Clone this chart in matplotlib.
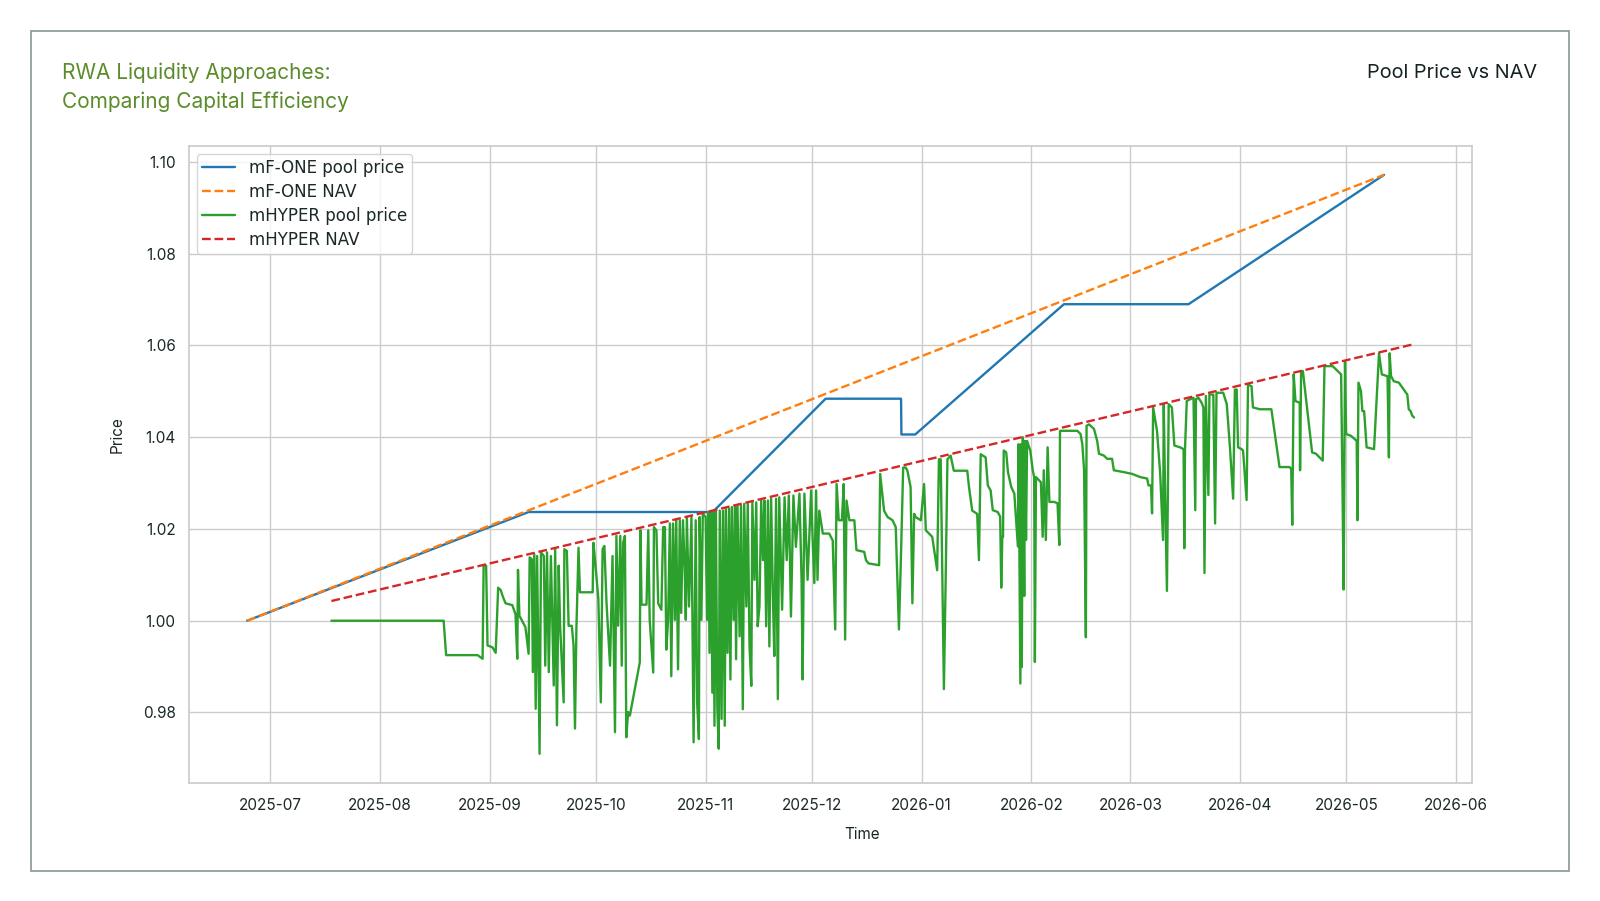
import matplotlib
matplotlib.use("Agg")
import matplotlib.pyplot as plt
from matplotlib.patches import Rectangle
import seaborn as sns
import pandas as pd

# day offsets are counted from 2025-07-01
BASE = pd.Timestamp("2025-07-01")

# mF-ONE NAV (straight accrual line)
one_nav_day = [-6.5, 314.6]
one_nav = [1.0000, 1.0972]

# mF-ONE pool price
one_pool_day = [-6.5, 73.0, 125.0, 156.9, 178.2, 178.3, 182.2, 224.2, 259.4, 314.6]
one_pool = [1.0000, 1.0237, 1.0237, 1.0484, 1.0484, 1.0406, 1.0406, 1.0690, 1.0690, 1.0972]

# mHYPER NAV
hyper_nav_day = [17.3, 323.1]
hyper_nav = [1.0043, 1.0603]

# mHYPER pool price
hyper_day = [
    17.3, 49.0, 49.7, 58.6, 60.0, 60.3, 61.0, 61.4, 62.8, 63.7,
    64.4, 65.1, 65.8, 66.5, 68.4, 69.3, 69.8, 70.0, 70.4, 72.1,
    73.0, 73.3, 73.9, 74.2, 74.6, 75.0, 75.4, 76.1, 76.5, 77.3,
    77.7, 78.2, 78.7, 79.3, 80.1, 80.5, 81.0, 81.5, 81.9, 82.9,
    83.1, 83.8, 84.3, 85.2, 85.7, 86.1, 86.5, 87.1, 87.5, 91.1,
    91.3, 91.8, 92.7, 93.4, 93.9, 94.4, 95.0, 96.0, 96.7, 97.4,
    97.8, 98.3, 98.9, 99.3, 99.7, 100.2, 100.6, 101.1, 101.6, 104.4,
    104.6, 104.9, 106.3, 106.8, 107.2, 107.7, 108.2, 108.4, 109.1, 109.6,
    110.5, 111.0, 111.5, 111.9, 112.4, 112.9, 113.3, 113.8, 114.3, 114.7,
    115.2, 115.7, 116.1, 116.6, 117.1, 117.4, 117.7, 118.3, 119.0, 119.6,
    120.2, 120.6, 121.1, 121.3, 121.8, 122.2, 123.0, 123.4, 123.8, 124.1,
    124.5, 124.9, 125.2, 125.5, 125.9, 126.3, 126.7, 127.0, 127.5, 127.9,
    128.4, 128.7, 129.2, 129.6, 130.0, 130.4, 130.9, 131.3, 131.6, 132.0,
    132.6, 133.0, 133.5, 133.9, 134.5, 134.9, 135.4, 135.9, 136.2, 136.8,
    137.3, 137.7, 138.2, 138.7, 139.2, 139.6, 140.1, 140.6, 141.0, 141.5,
    142.0, 142.4, 142.9, 143.4, 143.8, 144.6, 145.3, 145.9, 146.5, 147.1,
    147.8, 148.5, 149.5, 150.1, 150.4, 150.9, 151.8, 152.8, 153.2, 153.7,
    154.2, 154.6, 155.1, 156.1, 157.9, 158.9, 159.6, 160.0, 160.6, 161.5,
    162.0, 162.4, 162.8, 163.6, 165.0, 165.6, 167.8, 168.3, 169.0, 172.0,
    172.3, 173.4, 174.4, 175.8, 176.7, 177.6, 178.1, 178.8, 179.5, 180.0,
    180.9, 181.4, 181.9, 182.3, 183.8, 184.7, 185.2, 187.0, 188.4, 188.9,
    189.4, 190.3, 190.8, 191.3, 192.2, 193.1, 194.1, 196.9, 197.4, 198.3,
    199.7, 200.2, 200.7, 202.1, 202.7, 203.5, 204.1, 205.5, 206.2, 206.5,
    206.8, 207.0, 207.2, 207.9, 208.4, 209.3, 210.2, 211.2, 211.4, 211.9,
    212.1, 212.3, 212.6, 213.0, 213.2, 213.5, 213.8, 214.7, 215.4, 215.8,
    216.0, 216.3, 217.2, 217.7, 218.2, 218.5, 219.1, 219.6, 220.1, 221.5,
    222.4, 222.9, 223.1, 228.0, 228.9, 229.4, 229.9, 230.4, 230.6, 231.3,
    232.7, 233.6, 234.1, 235.5, 236.4, 237.8, 238.3, 241.1, 243.5, 245.8,
    247.7, 248.1, 248.8, 249.1, 249.4, 250.5, 251.4, 252.2, 252.4, 252.8,
    253.3, 253.8, 254.7, 255.4, 257.0, 258.0, 258.2, 258.4, 258.9, 259.9,
    260.8, 261.3, 261.5, 262.2, 263.1, 263.6, 263.9, 264.3, 265.0, 265.3,
    266.4, 266.9, 267.3, 269.2, 270.2, 271.1, 272.0, 272.5, 273.0, 273.4,
    274.4, 274.8, 275.8, 276.2, 277.2, 277.6, 279.5, 282.8, 285.1, 287.9,
    288.4, 288.7, 289.1, 289.6, 290.8, 290.9, 291.2, 291.7, 294.3, 295.4,
    297.3, 297.8, 300.1, 302.5, 302.9, 303.2, 303.6, 303.9, 305.3, 306.9,
    307.1, 307.4, 308.1, 308.5, 309.0, 309.7, 311.8, 313.2, 314.0, 315.6,
    316.0, 316.2, 316.6, 317.4, 318.8, 320.2, 321.2, 321.6, 322.1, 322.6,
    323.1,
]
hyper_price = [
    1.0000, 1.0000, 0.9925, 0.9925, 0.9917, 1.0121, 1.0120, 0.9946, 0.9942, 0.9930,
    1.0072, 1.0067, 1.0051, 1.0038, 1.0034, 1.0014, 0.9917, 1.0111, 1.0011, 0.9986,
    0.9928, 1.0138, 1.0134, 0.9888, 1.0145, 0.9808, 1.0141, 0.9710, 1.0149, 1.0141,
    0.9902, 1.0149, 0.9888, 1.0141, 0.9859, 1.0156, 0.9772, 1.0120, 0.9989, 0.9822,
    1.0156, 1.0152, 0.9989, 0.9989, 0.9946, 0.9765, 0.9982, 1.0159, 1.0062, 1.0062,
    1.0170, 1.0130, 1.0047, 0.9822, 1.0156, 1.0163, 1.0040, 0.9902, 1.0141, 0.9757,
    1.0185, 0.9989, 1.0185, 0.9902, 1.0170, 1.0185, 0.9746, 0.9801, 0.9793, 0.9909,
    1.0197, 1.0035, 1.0035, 1.0197, 1.0002, 0.9944, 0.9887, 1.0204, 1.0197, 1.0038,
    1.0024, 1.0204, 1.0204, 0.9937, 1.0002, 1.0212, 0.9879, 1.0212, 1.0002, 1.0219,
    0.9894, 1.0219, 1.0017, 1.0219, 1.0110, 1.0002, 1.0226, 1.0031, 1.0226, 0.9735,
    1.0219, 0.9822, 0.9742, 1.0226, 1.0002, 1.0233, 1.0226, 1.0002, 1.0237, 0.9930,
    1.0233, 0.9843, 1.0237, 0.9771, 1.0240, 0.9814, 0.9721, 1.0240, 0.9786, 1.0240,
    0.9771, 1.0244, 0.9930, 1.0244, 0.9872, 1.0248, 1.0002, 1.0248, 0.9916, 1.0251,
    0.9966, 1.0251, 0.9807, 1.0255, 1.0031, 1.0255, 0.9944, 0.9858, 1.0258, 1.0089,
    1.0258, 0.9988, 1.0031, 1.0262, 1.0132, 1.0262, 0.9988, 1.0262, 0.9944, 1.0266,
    1.0053, 0.9923, 1.0266, 0.9829, 1.0269, 1.0024, 1.0269, 1.0132, 1.0273, 1.0009,
    1.0273, 1.0161, 1.0277, 1.0089, 0.9872, 1.0277, 1.0089, 1.0284, 1.0183, 1.0082,
    1.0284, 1.0089, 1.0240, 1.0190, 1.0190, 1.0175, 0.9981, 1.0298, 1.0219, 1.0219,
    1.0298, 0.9959, 1.0262, 1.0219, 1.0219, 1.0154, 1.0150, 1.0132, 1.0125, 1.0121,
    1.0320, 1.0240, 1.0226, 1.0219, 1.0204, 0.9981, 1.0118, 1.0334, 1.0334, 1.0327,
    1.0291, 1.0038, 1.0233, 1.0226, 1.0219, 1.0298, 1.0197, 1.0183, 1.0110, 1.0352,
    1.0352, 0.9851, 1.0089, 1.0352, 1.0360, 1.0327, 1.0327, 1.0327, 1.0291, 1.0240,
    1.0233, 1.0132, 1.0363, 1.0356, 1.0295, 1.0284, 1.0241, 1.0237, 1.0227, 1.0072,
    1.0183, 1.0183, 1.0371, 1.0367, 1.0324, 1.0292, 1.0277, 1.0162, 1.0385, 0.9863,
    1.0385, 0.9899, 1.0400, 1.0054, 1.0392, 1.0176, 1.0392, 1.0371, 1.0328, 1.0313,
    0.9910, 1.0313, 1.0306, 1.0302, 1.0183, 1.0328, 1.0176, 1.0378, 1.0259, 1.0259,
    1.0256, 1.0165, 1.0414, 1.0414, 1.0407, 1.0385, 1.0328, 0.9964, 1.0425, 1.0428,
    1.0418, 1.0392, 1.0364, 1.0360, 1.0353, 1.0353, 1.0328, 1.0324, 1.0320, 1.0313,
    1.0310, 1.0295, 1.0295, 1.0234, 1.0465, 1.0414, 1.0320, 1.0176, 1.0472, 1.0270,
    1.0065, 1.0472, 1.0465, 1.0382, 1.0378, 1.0374, 1.0158, 1.0374, 1.0479, 1.0483,
    1.0486, 1.0241, 1.0483, 1.0486, 1.0475, 1.0465, 1.0104, 1.0490, 1.0274, 1.0493,
    1.0493, 1.0212, 1.0497, 1.0497, 1.0472, 1.0378, 1.0266, 1.0504, 1.0504, 1.0378,
    1.0374, 1.0371, 1.0263, 1.0515, 1.0511, 1.0465, 1.0461, 1.0461, 1.0335, 1.0335,
    1.0331, 1.0209, 1.0537, 1.0479, 1.0475, 1.0328, 1.0544, 1.0544, 1.0367, 1.0364,
    1.0349, 1.0555, 1.0555, 1.0537, 1.0284, 1.0068, 1.0565, 1.0407, 1.0403, 1.0392,
    1.0219, 1.0519, 1.0501, 1.0457, 1.0457, 1.0378, 1.0374, 1.0583, 1.0537, 1.0533,
    1.0356, 1.0583, 1.0533, 1.0522, 1.0519, 1.0504, 1.0493, 1.0461, 1.0457, 1.0447,
    1.0443,
]


def to_dates(days):
    return BASE + pd.to_timedelta(days, unit="D")


sns.set_theme(style="whitegrid")
plt.rcParams["font.family"] = ["Inter", "DejaVu Sans"]
plt.rcParams["text.color"] = "#1b2828"
plt.rcParams["xtick.color"] = "#1b2828"
plt.rcParams["ytick.color"] = "#1b2828"
plt.rcParams["axes.labelcolor"] = "#1b2828"

W, H = 1600, 901
fig = plt.figure(figsize=(16, 9.01), dpi=100)

# outer frame
fig.add_artist(Rectangle((30.6 / W, 1 - 870.7 / H), (1569.3 - 30.6) / W, (870.7 - 30.6) / H,
                         transform=fig.transFigure, fill=False, edgecolor="#8a9597", lw=1.2))

fig.text(62 / W, 1 - 73 / H, "RWA Liquidity Approaches:", color="#5b8c2b",
         fontsize=15, va="center", ha="left")
fig.text(62 / W, 1 - 101.5 / H, "Comparing Capital Efficiency", color="#5b8c2b",
         fontsize=15, va="center", ha="left")
fig.text(1537 / W, 1 - 73 / H, "Pool Price vs NAV", color="#142222",
         fontsize=14.3, va="center", ha="right")

ax = fig.add_axes([188.8 / W, 1 - 782.7 / H, (1472.4 - 188.8) / W, (782.7 - 145.9) / H])

lw = 1.7
ax.plot(to_dates(one_pool_day), one_pool, color="tab:blue", lw=lw, label="mF-ONE pool price")
ax.plot(to_dates(one_nav_day), one_nav, color="tab:orange", lw=lw, ls="--", label="mF-ONE NAV")
ax.plot(to_dates(hyper_day), hyper_price, color="tab:green", lw=lw, label="mHYPER pool price")
ax.plot(to_dates(hyper_nav_day), hyper_nav, color="tab:red", lw=lw, ls="--", label="mHYPER NAV")

ax.set_xlabel("Time", fontsize=11)
ax.set_ylabel("Price", fontsize=11)
ax.xaxis.set_label_coords((862 - 188.8) / 1283.6, -(827 - 782.7) / 636.8)
ax.yaxis.set_label_coords((125 - 188.8) / 1283.6, 1 - (435 - 145.9) / 636.8)
ax.tick_params(labelsize=11)
ax.tick_params(axis="x", pad=5)
ax.legend(loc="upper left", prop={"family": "DejaVu Sans", "size": 12},
          labelspacing=0.36, borderpad=0.3)

fig.savefig("out.png", dpi=100)
